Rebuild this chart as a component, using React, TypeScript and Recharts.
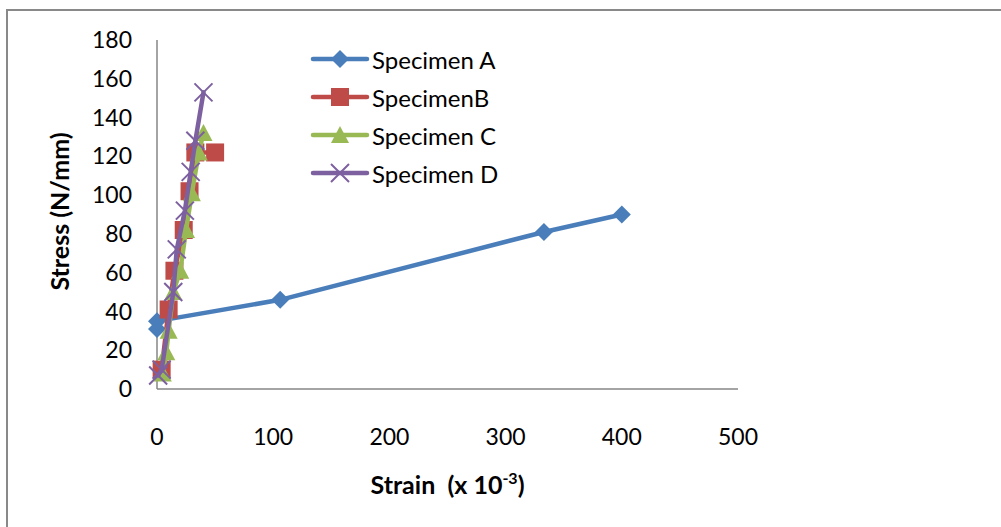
import { ScatterChart, Scatter, XAxis, YAxis, Legend, Label } from 'recharts';

// strain (x 10^-3) and stress (N/mm)
const strainA = [0, 0, 106, 333, 400];
const stressA = [31, 35, 46, 81, 90];

const strainB = [4, 10, 15, 23, 28, 33, 50];
const stressB = [10, 41, 61, 82, 102, 122, 122];

const strainC = [5, 8, 10, 14, 20, 25, 30, 36, 40];
const stressC = [8, 19, 30, 50, 61, 82, 101, 122, 132];

const strainD = [1, 4, 14, 17, 24, 29, 33, 40];
const stressD = [7, 10, 50, 72, 92, 112, 128, 153];

const xTicks = [0, 100, 200, 300, 400, 500];
const yTicks = [0, 20, 40, 60, 80, 100, 120, 140, 160, 180];

const toPoints = (xs: number[], ys: number[]) => xs.map((x, i) => ({ strain: x, stress: ys[i] }));

const series = [
    { name: 'Specimen A', data: toPoints(strainA, stressA), color: '#4A7EBB', marker: 'diamond' },
    { name: 'SpecimenB', data: toPoints(strainB, stressB), color: '#BE4B48', marker: 'square' },
    { name: 'Specimen C', data: toPoints(strainC, stressC), color: '#98B954', marker: 'triangle' },
    { name: 'Specimen D', data: toPoints(strainD, stressD), color: '#7D60A0', marker: 'cross' },
];

const FONT = 'Lato, "Open Sans", sans-serif';

function Marker({ cx, cy, kind, color }: { cx: number; cy: number; kind: string; color: string }) {
    if (cx == null || cy == null) return null;
    if (kind === 'diamond') {
        return <path d={`M${cx},${cy - 9} L${cx + 9},${cy} L${cx},${cy + 9} L${cx - 9},${cy} Z`} fill={color} />;
    }
    if (kind === 'square') {
        return <rect x={cx - 9} y={cy - 9} width={18} height={18} fill={color} />;
    }
    if (kind === 'triangle') {
        return <path d={`M${cx},${cy - 9} L${cx + 9},${cy + 8} L${cx - 9},${cy + 8} Z`} fill={color} />;
    }
    return (
        <path
            d={`M${cx - 9},${cy - 9} L${cx + 9},${cy + 9} M${cx + 9},${cy - 9} L${cx - 9},${cy + 9}`}
            stroke={color}
            strokeWidth={2}
            fill="none"
        />
    );
}

function LegendBox() {
    return (
        <div style={{ fontFamily: FONT, fontSize: 24, color: '#000' }}>
            {series.map((s) => (
                <div key={s.name} style={{ display: 'flex', alignItems: 'center', height: 38 }}>
                    <svg width={62} height={38}>
                        <line x1={3} y1={19} x2={57} y2={19} stroke={s.color} strokeWidth={4.5} strokeLinecap="round" />
                        <Marker cx={30} cy={19} kind={s.marker} color={s.color} />
                    </svg>
                    <span style={{ whiteSpace: 'nowrap' }}>{s.name}</span>
                </div>
            ))}
        </div>
    );
}

export default function App() {
    const tickStyle = { fill: '#000', fontSize: 23, fontFamily: FONT };

    return (
        <div style={{ position: 'absolute', left: 0, top: 0, width: 1001, height: 527, overflow: 'hidden', background: '#fff' }}>
            <div
                style={{
                    position: 'absolute',
                    left: 6,
                    top: 9,
                    width: 1100,
                    height: 600,
                    borderLeft: '2px solid #898989',
                    borderTop: '2px solid #898989',
                }}
            />
            <ScatterChart width={1001} height={527} margin={{ top: 40, right: 263, bottom: 78, left: 0 }}>
                <XAxis
                    type="number"
                    dataKey="strain"
                    domain={[0, 500]}
                    ticks={xTicks}
                    height={60}
                    tickLine={false}
                    tickSize={0}
                    tickMargin={40}
                    axisLine={{ stroke: '#868686', strokeWidth: 1.5 }}
                    tick={tickStyle}
                >
                    <Label
                        content={({ viewBox }: any) => (
                            <text
                                x={viewBox.x + viewBox.width / 2}
                                y={494}
                                textAnchor="middle"
                                fontFamily={FONT}
                                fontWeight="bold"
                                fontSize={25}
                                fill="#000"
                            >
                                Strain{'\u00a0\u00a0'}(x 10
                                <tspan fontSize={16} dy={-10}>-3</tspan>
                                <tspan dy={10}>)</tspan>
                            </text>
                        )}
                    />
                </XAxis>
                <YAxis
                    type="number"
                    dataKey="stress"
                    domain={[0, 180]}
                    ticks={yTicks}
                    width={157}
                    tickLine={false}
                    tickSize={0}
                    tickMargin={25}
                    axisLine={{ stroke: '#868686', strokeWidth: 1.5 }}
                    tick={tickStyle}
                >
                    <Label
                        content={({ viewBox }: any) => {
                            const x = 69;
                            const y = viewBox.y + viewBox.height / 2 - 3;
                            return (
                                <text
                                    x={x}
                                    y={y}
                                    transform={`rotate(-90, ${x}, ${y})`}
                                    textAnchor="middle"
                                    fontFamily={FONT}
                                    fontWeight="bold"
                                    fontSize={25}
                                    fill="#000"
                                >
                                    Stress (N/mm)
                                </text>
                            );
                        }}
                    />
                </YAxis>
                <Legend
                    layout="vertical"
                    align="center"
                    verticalAlign="middle"
                    content={() => <LegendBox />}
                    wrapperStyle={{ position: 'absolute', left: 310, top: 40, width: 260 }}
                />
                {series.map((s) => (
                    <Scatter
                        key={s.name}
                        name={s.name}
                        data={s.data}
                        fill={s.color}
                        line={{ stroke: s.color, strokeWidth: 4.5, strokeLinecap: 'round', strokeLinejoin: 'round' }}
                        lineType="joint"
                        shape={(p: any) => <Marker cx={p.cx} cy={p.cy} kind={s.marker} color={s.color} />}
                        isAnimationActive={false}
                    />
                ))}
            </ScatterChart>
        </div>
    );
}
